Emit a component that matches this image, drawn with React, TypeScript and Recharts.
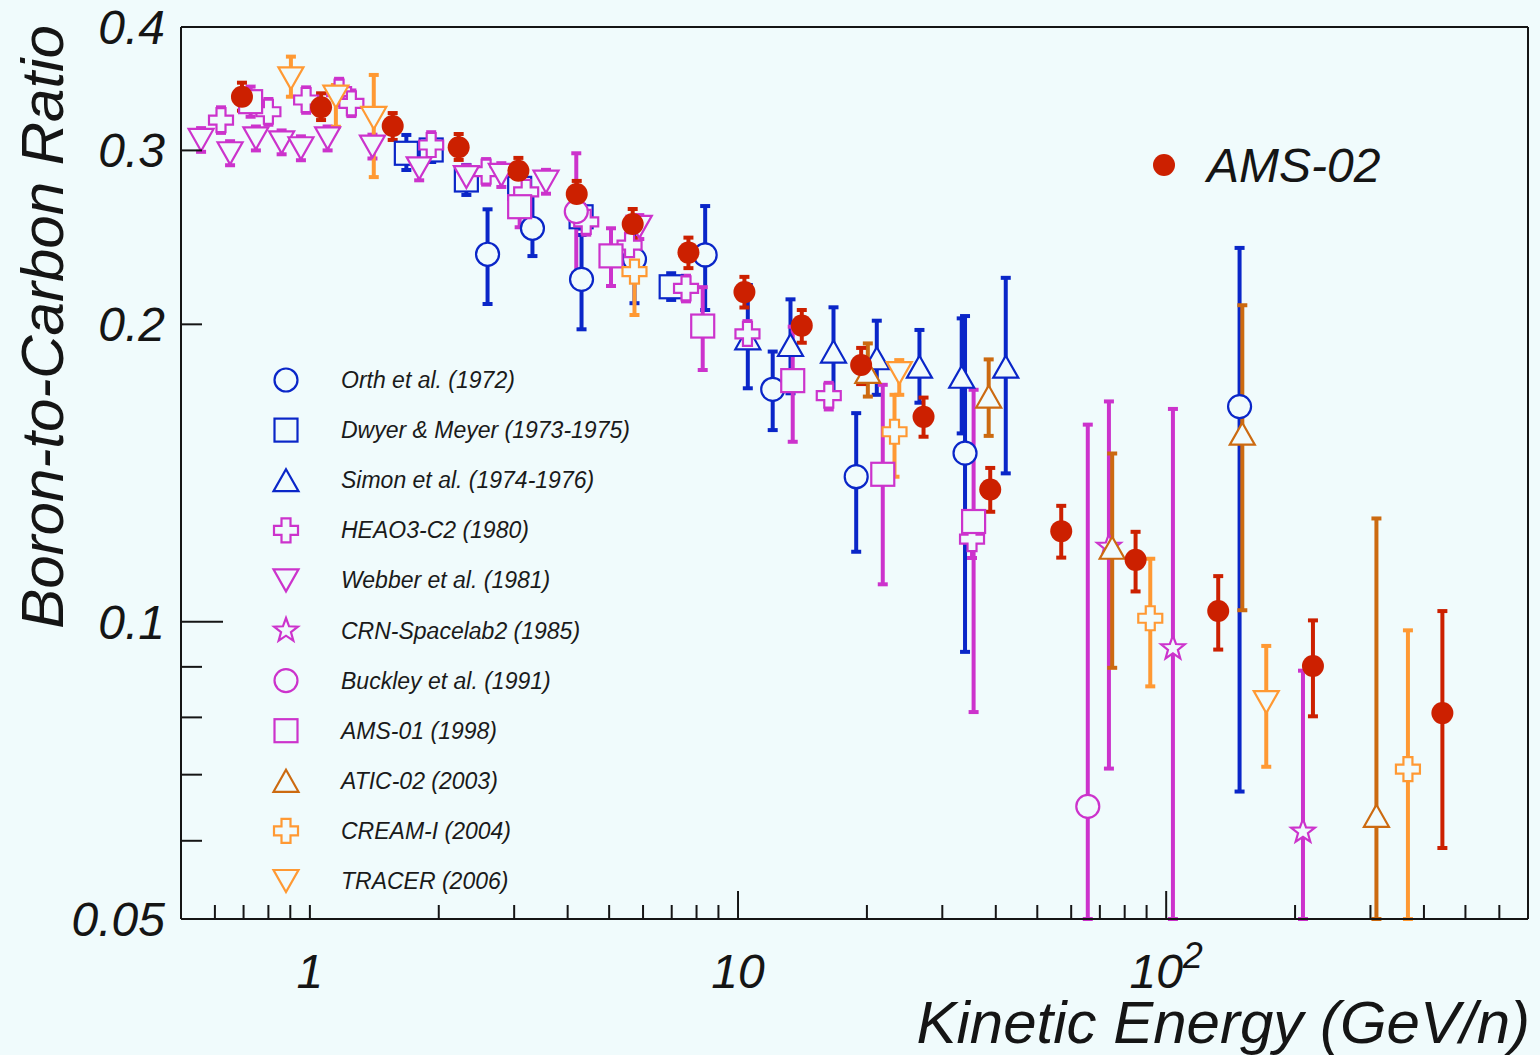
import React from "react";
import { ScatterChart, Scatter, XAxis, YAxis, ErrorBar, ReferenceLine, Legend } from "recharts";

const BG = "#f0fbfc";
const BLUE = "#0a26c8";
const MAGENTA = "#cc33cc";
const DARK_ORANGE = "#cc6a10";
const ORANGE = "#ff9933";
const RED = "#cc2000";
const INK = "#151515";
const FONT = '"Liberation Sans", Arial, Helvetica, sans-serif';

// Kinetic energy (GeV/n), B/C ratio, and [low, high] error range per point
const orthE = [2.6, 3.31, 4.31, 5.73, 8.38, 12.05, 18.88, 33.9, 148.4];
const orthR = [0.2355, 0.2502, 0.2221, 0.2327, 0.2351, 0.1719, 0.1402, 0.1481, 0.1651];
const orthErr = [[0.2097, 0.2615], [0.2345, 0.2704], [0.1977, 0.2463], [0.2101, 0.2562], [0.2068, 0.2635], [0.1563, 0.1877], [0.1177, 0.1626], [0.0932, 0.2039], [0.0673, 0.239]];

const dwyerE = [1.68, 1.92, 2.32, 3.09, 4.3, 6.98];
const dwyerR = [0.298, 0.3003, 0.28, 0.2746, 0.257, 0.2183];
const dwyerErr = [[0.2866, 0.311], [0.292, 0.3087], [0.2704, 0.29], [0.2672, 0.2823], [0.25, 0.2642], [0.2117, 0.2253]];

const simonE = [10.54, 13.26, 16.71, 21.09, 26.53, 33.3, 42.2];
const simonR = [0.1936, 0.1906, 0.1877, 0.1848, 0.1812, 0.177, 0.1812];
const simonErr = [[0.1723, 0.2192], [0.1703, 0.212], [0.169, 0.2081], [0.1697, 0.2017], [0.1666, 0.1974], [0.1551, 0.2028], [0.1413, 0.2229]];

const heaoE = [0.62, 0.8, 0.98, 1.17, 1.25, 1.92, 2.58, 3.2, 4.42, 5.58, 7.56, 10.52, 16.29, 35.2];
const heaoR = [0.322, 0.3283, 0.3374, 0.344, 0.3348, 0.3038, 0.2855, 0.2723, 0.2539, 0.2406, 0.2175, 0.1956, 0.1694, 0.1212];
const heaoErr = [[0.3125, 0.3317], [0.3185, 0.3382], [0.3275, 0.3475], [0.3335, 0.3545], [0.325, 0.345], [0.295, 0.313], [0.277, 0.294], [0.264, 0.2805], [0.2465, 0.2615], [0.2335, 0.248], [0.211, 0.224], [0.1895, 0.2015], [0.164, 0.1745], [0.116, 0.1265]];

const webberE = [0.557, 0.651, 0.748, 0.859, 0.953, 1.1, 1.4, 1.8, 2.32, 2.8, 3.56, 5.88];
const webberR = [0.3074, 0.298, 0.3086, 0.3057, 0.3015, 0.3086, 0.3027, 0.2877, 0.2819, 0.2833, 0.2789, 0.251];
const webberErr = [[0.299, 0.316], [0.2898, 0.3065], [0.3, 0.3172], [0.2973, 0.3143], [0.2932, 0.31], [0.3, 0.3172], [0.2944, 0.3112], [0.2798, 0.2958], [0.2742, 0.2898], [0.2755, 0.2912], [0.2712, 0.2867], [0.244, 0.258]];

const crnE = [73.5, 103.7, 208.7];
const crnR = [0.1191, 0.094, 0.0613];
const crnErr = [[0.071, 0.1671], [0.05, 0.1642], [0.05, 0.0892]];

const buckleyE = [4.19, 65.6];
const buckleyR = [0.2601, 0.065];
const buckleyErr = [[0.2253, 0.298], [0.05, 0.1583]];

const ams01E = [0.727, 3.09, 5.05, 8.27, 13.42, 21.78, 35.5];
const ams01R = [0.3361, 0.2631, 0.2346, 0.1992, 0.1754, 0.141, 0.1263];
const ams01Err = [[0.3245, 0.3481], [0.2508, 0.276], [0.2187, 0.2502], [0.1798, 0.2181], [0.1521, 0.1989], [0.1091, 0.1737], [0.081, 0.1717]];

const aticE = [20.1, 38.5, 74.8, 150.6, 309.8];
const aticR = [0.179, 0.169, 0.1188, 0.155, 0.0636];
const aticErr = [[0.169, 0.1913], [0.1542, 0.1843], [0.0898, 0.148], [0.1027, 0.2091], [0.05, 0.1272]];

const creamE = [5.73, 23.2, 91.8, 367];
const creamR = [0.2261, 0.1557, 0.1008, 0.0709];
const creamErr = [[0.2044, 0.2434], [0.1402, 0.1697], [0.086, 0.1158], [0.05, 0.098]];

const tracerE = [0.903, 1.15, 1.41, 23.8, 171.3];
const tracerR = [0.3549, 0.34, 0.3236, 0.1785, 0.0829];
const tracerErr = [[0.34, 0.3733], [0.317, 0.3494], [0.2819, 0.3577], [0.1697, 0.184], [0.0713, 0.0945]];

const ams02E = [0.694, 1.062, 1.561, 2.226, 3.069, 4.2, 5.675, 7.659, 10.35, 14.09, 19.39, 27.12, 38.82, 56.87, 84.83, 132.3, 220.2, 441.7];
const ams02R = [0.34, 0.3317, 0.3176, 0.3022, 0.2861, 0.271, 0.2527, 0.2364, 0.2156, 0.1994, 0.1819, 0.1612, 0.1361, 0.1235, 0.1155, 0.1025, 0.0902, 0.0808];
const ams02Err = [[0.3291, 0.3513], [0.322, 0.3427], [0.3074, 0.3273], [0.2934, 0.3117], [0.2768, 0.2948], [0.2629, 0.2794], [0.2446, 0.2617], [0.228, 0.2448], [0.208, 0.2234], [0.1916, 0.2068], [0.174, 0.1893], [0.1539, 0.1686], [0.1292, 0.1431], [0.1161, 0.131], [0.1073, 0.1233], [0.0937, 0.1112], [0.0802, 0.1003], [0.059, 0.1025]];

const xTicks = [0.6, 0.7, 0.8, 0.9, 1, 2, 3, 4, 5, 6, 7, 8, 9, 10, 20, 30, 40, 50, 60, 70, 80, 90, 100, 200, 300, 400, 500, 600];
const yTicks = [0.05, 0.06, 0.07, 0.08, 0.09, 0.1, 0.2, 0.3, 0.4];
const yLabelled = ["0.05", "0.1", "0.2", "0.3", "0.4"];

type Kind = "circle" | "square" | "up" | "down" | "cross" | "star" | "dot";

function pts(list: number[][]) {
  return list.map((p) => p.join(",")).join(" ");
}

function Marker({ kind, cx, cy, color }: { kind: Kind; cx: number; cy: number; color: string }) {
  const sw = 2.2;
  if (kind === "dot") return <circle cx={cx} cy={cy} r={11} fill={color} />;
  if (kind === "circle") return <circle cx={cx} cy={cy} r={11.5} fill={BG} stroke={color} strokeWidth={sw} />;
  if (kind === "square") return <rect x={cx - 11.5} y={cy - 11.5} width={23} height={23} fill={BG} stroke={color} strokeWidth={sw} />;
  if (kind === "up")
    return <polygon points={pts([[cx, cy - 11], [cx + 12.5, cy + 11], [cx - 12.5, cy + 11]])} fill={BG} stroke={color} strokeWidth={sw} />;
  if (kind === "down")
    return <polygon points={pts([[cx - 12.5, cy - 11], [cx + 12.5, cy - 11], [cx, cy + 11]])} fill={BG} stroke={color} strokeWidth={sw} />;
  if (kind === "cross") {
    const s = 12, a = 4.5;
    return (
      <polygon
        points={pts([[cx - a, cy - s], [cx + a, cy - s], [cx + a, cy - a], [cx + s, cy - a], [cx + s, cy + a], [cx + a, cy + a], [cx + a, cy + s], [cx - a, cy + s], [cx - a, cy + a], [cx - s, cy + a], [cx - s, cy - a], [cx - a, cy - a]])}
        fill={BG} stroke={color} strokeWidth={sw}
      />
    );
  }
  const star: number[][] = [];
  for (let i = 0; i < 10; i++) {
    const r = i % 2 === 0 ? 12.5 : 5.2;
    const ang = -Math.PI / 2 + (i * Math.PI) / 5;
    star.push([cx + r * Math.cos(ang), cy + r * Math.sin(ang)]);
  }
  return <polygon points={pts(star)} fill={BG} stroke={color} strokeWidth={sw} />;
}

const series: { name: string; kind: Kind; color: string; E: number[]; R: number[]; Err: number[][] }[] = [
  { name: "Orth et al. (1972)", kind: "circle", color: BLUE, E: orthE, R: orthR, Err: orthErr },
  { name: "Dwyer & Meyer (1973-1975)", kind: "square", color: BLUE, E: dwyerE, R: dwyerR, Err: dwyerErr },
  { name: "Simon et al. (1974-1976)", kind: "up", color: BLUE, E: simonE, R: simonR, Err: simonErr },
  { name: "HEAO3-C2 (1980)", kind: "cross", color: MAGENTA, E: heaoE, R: heaoR, Err: heaoErr },
  { name: "Webber et al. (1981)", kind: "down", color: MAGENTA, E: webberE, R: webberR, Err: webberErr },
  { name: "CRN-Spacelab2 (1985)", kind: "star", color: MAGENTA, E: crnE, R: crnR, Err: crnErr },
  { name: "Buckley et al. (1991)", kind: "circle", color: MAGENTA, E: buckleyE, R: buckleyR, Err: buckleyErr },
  { name: "AMS-01 (1998)", kind: "square", color: MAGENTA, E: ams01E, R: ams01R, Err: ams01Err },
  { name: "ATIC-02 (2003)", kind: "up", color: DARK_ORANGE, E: aticE, R: aticR, Err: aticErr },
  { name: "CREAM-I (2004)", kind: "cross", color: ORANGE, E: creamE, R: creamR, Err: creamErr },
  { name: "TRACER (2006)", kind: "down", color: ORANGE, E: tracerE, R: tracerR, Err: tracerErr },
];

const ams02 = { name: "AMS-02", kind: "dot" as Kind, color: RED, E: ams02E, R: ams02R, Err: ams02Err };

function toRows(E: number[], R: number[], Err: number[][]) {
  return E.map((x, i) => ({ x, y: R[i], err: [R[i] - Err[i][0], Err[i][1] - R[i]] }));
}

function XTick(props: any) {
  const { x, y, payload } = props;
  const v = payload.value;
  const major = v === 10 || v === 100;
  let label: React.ReactNode = null;
  if (v === 1 || v === 10) label = String(v);
  if (v === 100)
    label = (
      <>
        10<tspan dy={-20} fontSize={36}>2</tspan>
      </>
    );
  return (
    <g>
      <line x1={x} x2={x} y1={y} y2={y - (major ? 28 : 14)} stroke={INK} strokeWidth={2} />
      {label && (
        <text x={x} y={y + 69} textAnchor="middle" fontSize={48} fontStyle="italic" fontFamily={FONT} fill={INK}>
          {label}
        </text>
      )}
    </g>
  );
}

function YTick(props: any) {
  const { x, y, payload } = props;
  const v = payload.value;
  const major = Math.abs(v - 0.1) < 1e-9;
  const txt = String(v);
  return (
    <g>
      <line x1={x} x2={x + (major ? 42 : 21)} y1={y} y2={y} stroke={INK} strokeWidth={2} />
      {yLabelled.includes(txt) && (
        <text x={x - 16} y={y + 17} textAnchor="end" fontSize={48} fontStyle="italic" fontFamily={FONT} fill={INK}>
          {txt}
        </text>
      )}
    </g>
  );
}

function XTitle(props: any) {
  const { viewBox } = props;
  return (
    <text x={viewBox.x + viewBox.width + 2} y={viewBox.y + 124} textAnchor="end" fontSize={60} fontStyle="italic" fontFamily={FONT} fill={INK}>
      Kinetic Energy (GeV/n)
    </text>
  );
}

function YTitle(props: any) {
  const { viewBox } = props;
  const x = viewBox.x + 63;
  const y = viewBox.y + 300;
  return (
    <text x={x} y={y} transform={`rotate(-90, ${x}, ${y})`} textAnchor="middle" fontSize={60} fontStyle="italic" fontFamily={FONT} fill={INK}>
      Boron-to-Carbon Ratio
    </text>
  );
}

function LegendBox() {
  return (
    <svg width={1540} height={1055} style={{ position: "absolute", left: 0, top: 0 }}>
      {series.map((s, i) => {
        const cy = 380 + i * 50.1;
        return (
          <g key={s.name}>
            <Marker kind={s.kind} cx={286} cy={cy} color={s.color} />
            <text x={341} y={cy + 8} fontSize={23} fontStyle="italic" fontFamily={FONT} fill="#1a1a1a">
              {s.name}
            </text>
          </g>
        );
      })}
      <Marker kind="dot" cx={1164} cy={165} color={RED} />
      <text x={1207} y={182} fontSize={48} fontStyle="italic" fontFamily={FONT} fill={INK}>
        {ams02.name}
      </text>
    </svg>
  );
}

export default function App() {
  const all = [...series, ams02];
  return (
    <div style={{ width: 1540, height: 1055, background: BG, position: "relative" }}>
      <style>{`body{margin:0;background:${BG};}`}</style>
      <ScatterChart width={1540} height={1055} margin={{ top: 27, right: 12, bottom: 0, left: 0 }}>
        <XAxis
          type="number"
          dataKey="x"
          scale="log"
          domain={[0.5, 700]}
          allowDataOverflow
          ticks={xTicks}
          interval={0}
          tickSize={0}
          tickMargin={0}
          tickLine={false}
          tick={<XTick />}
          height={136}
          axisLine={{ stroke: INK, strokeWidth: 2 }}
          label={<XTitle />}
        />
        <YAxis
          type="number"
          dataKey="y"
          scale="log"
          domain={[0.05, 0.4]}
          allowDataOverflow
          ticks={yTicks}
          interval={0}
          tickSize={0}
          tickMargin={0}
          tickLine={false}
          tick={<YTick />}
          width={181}
          axisLine={{ stroke: INK, strokeWidth: 2 }}
          label={<YTitle />}
        />
        <ReferenceLine y={0.4} stroke={INK} strokeWidth={2} />
        <ReferenceLine x={700} stroke={INK} strokeWidth={2} />
        {all.map((s) => (
          <Scatter
            key={s.name}
            name={s.name}
            data={toRows(s.E, s.R, s.Err)}
            isAnimationActive={false}
            shape={(p: any) => <Marker kind={s.kind} cx={p.cx} cy={p.cy} color={s.color} />}
          >
            <ErrorBar dataKey="err" direction="y" width={5} strokeWidth={4} stroke={s.color} isAnimationActive={false} />
          </Scatter>
        ))}
        <Legend
          verticalAlign="middle"
          align="center"
          layout="horizontal"
          content={() => <LegendBox />}
          wrapperStyle={{ position: "absolute", left: 0, top: 0, width: 1540, height: 1055, pointerEvents: "none" }}
        />
      </ScatterChart>
    </div>
  );
}
